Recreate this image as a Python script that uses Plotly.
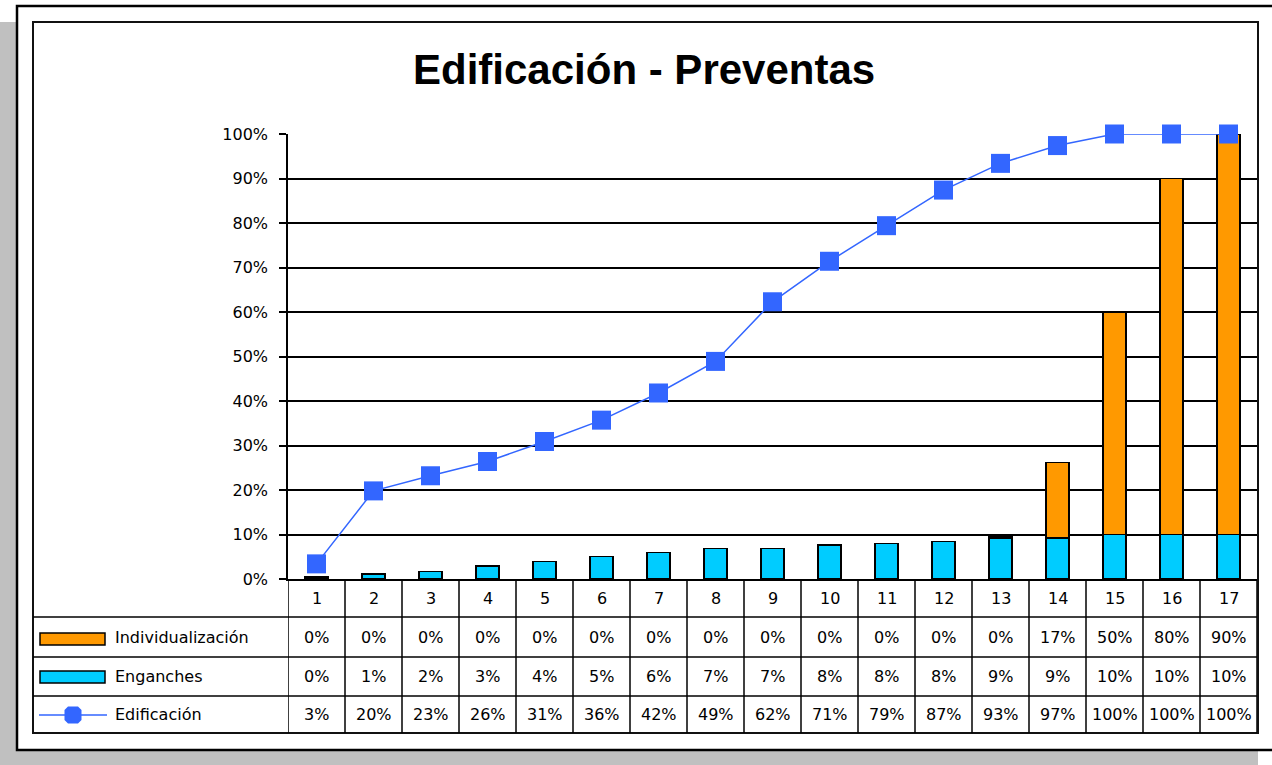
import plotly.graph_objects as go

# Chart data
periodos = list(range(1, 18))
individualizacion = [0, 0, 0, 0, 0, 0, 0, 0, 0, 0, 0, 0, 0.3, 17, 50, 80, 90]
enganches = [0.4, 1.1, 1.7, 2.9, 3.9, 5.1, 5.9, 6.8, 6.8, 7.6, 8.0, 8.4, 9.1, 9.2, 10, 10, 10]
edificacion = [3.4, 19.8, 23.2, 26.4, 30.9, 35.7, 41.8, 48.9, 62.3, 71.4, 79.4,
               87.4, 93.4, 97.4, 100, 100, 100]
ytick_vals = [0, 10, 20, 30, 40, 50, 60, 70, 80, 90, 100]
ytick_text = [f"{v}%" for v in ytick_vals]

W, H = 1272, 765
C_ORANGE = "#FF9900"
C_CYAN = "#00CCFF"
C_BLUE = "#3366FF"
TITLE_FONT = "Liberation Sans, Arial, sans-serif"
FONT = "DejaVu Sans, sans-serif"


def px(x):
    return x / W


def py(y):
    return 1 - y / H


# plot-area geometry (pixels)
PLOT_L, PLOT_R, PLOT_T, PLOT_B = 288, 1257, 134, 579
TABLE_ROWS = [579, 617, 657, 696, 733]
FRAME_L, FRAME_T, FRAME_R, FRAME_B = 33, 22, 1258, 733

fig = go.Figure()

fig.add_trace(go.Bar(
    x=periodos, y=enganches, name="Enganches",
    marker=dict(color=C_CYAN, line=dict(color="black", width=1.5)),
    width=0.4,
))
fig.add_trace(go.Bar(
    x=periodos, y=individualizacion, name="Individualización",
    marker=dict(color=C_ORANGE, line=dict(color="black", width=1.5)),
    width=0.4,
))
fig.add_trace(go.Scatter(
    x=periodos, y=edificacion, name="Edificación", mode="lines+markers",
    line=dict(color=C_BLUE, width=1.5),
    marker=dict(symbol="square", size=19, color=C_BLUE),
    cliponaxis=False,
))

shapes = []
# drop shadow
shapes.append(dict(type="rect", xref="paper", yref="paper", layer="below",
                   x0=px(0), x1=px(17), y0=py(765), y1=py(22),
                   fillcolor="#C0C0C0", line=dict(width=0)))
shapes.append(dict(type="rect", xref="paper", yref="paper", layer="below",
                   x0=px(0), x1=px(1258), y0=py(765), y1=py(751),
                   fillcolor="#C0C0C0", line=dict(width=0)))
# outer border
shapes.append(dict(type="rect", xref="paper", yref="paper", layer="below",
                   x0=px(17), x1=px(1290), y0=py(750), y1=py(6),
                   fillcolor="white", line=dict(color="black", width=2.5)))
# inner frame
shapes.append(dict(type="rect", xref="paper", yref="paper",
                   x0=px(FRAME_L), x1=px(FRAME_R), y0=py(FRAME_B), y1=py(FRAME_T),
                   line=dict(color="#111111", width=2)))
# data table horizontal rules
for yy in TABLE_ROWS[1:4]:
    shapes.append(dict(type="line", xref="paper", yref="paper",
                       x0=px(FRAME_L), x1=px(PLOT_R), y0=py(yy), y1=py(yy),
                       line=dict(color="black", width=1.5)))
# data table vertical rules
for k in range(18):
    shapes.append(dict(type="line", xref="x", yref="paper",
                       x0=0.5 + k, x1=0.5 + k, y0=py(TABLE_ROWS[-1]), y1=py(PLOT_B),
                       line=dict(color="black", width=1.5)))

# legend keys inside the table
shapes.append(dict(type="rect", xref="paper", yref="paper",
                   x0=px(40), x1=px(105), y0=py(645), y1=py(633),
                   fillcolor=C_ORANGE, line=dict(color="black", width=1.5)))
shapes.append(dict(type="rect", xref="paper", yref="paper",
                   x0=px(40), x1=px(105), y0=py(683), y1=py(671),
                   fillcolor=C_CYAN, line=dict(color="black", width=1.5)))
shapes.append(dict(type="line", xref="paper", yref="paper",
                   x0=px(39), x1=px(107), y0=py(715), y1=py(715),
                   line=dict(color=C_BLUE, width=1.5)))
cx, cy, r, c = 73, 715, 8.5, 3.5
octo = [(cx - r + c, cy - r), (cx + r - c, cy - r), (cx + r, cy - r + c), (cx + r, cy + r - c),
        (cx + r - c, cy + r), (cx - r + c, cy + r), (cx - r, cy + r - c), (cx - r, cy - r + c)]
path = "M " + " L ".join(f"{px(a):.5f},{py(b):.5f}" for a, b in octo) + " Z"
shapes.append(dict(type="path", xref="paper", yref="paper", path=path,
                   fillcolor=C_BLUE, line=dict(width=0)))

annotations = []
annotations.append(dict(text="<b>Edificación - Preventas</b>", xref="paper", yref="paper",
                        x=px(644), y=py(69), showarrow=False,
                        font=dict(family=TITLE_FONT, size=42, color="black"),
                        xanchor="center", yanchor="middle"))

cell_font = dict(family=FONT, size=16, color="black")
row_y = [(TABLE_ROWS[i] + TABLE_ROWS[i + 1]) / 2 for i in range(4)]

for p in periodos:
    annotations.append(dict(text=str(p), xref="x", yref="paper", x=p, y=py(row_y[0]),
                            showarrow=False, font=cell_font, xanchor="center", yanchor="middle"))

rows = [("Individualización", individualizacion),
        ("Enganches", enganches),
        ("Edificación", edificacion)]
for i, (name, vals) in enumerate(rows):
    yc = py(row_y[i + 1])
    annotations.append(dict(text=name, xref="paper", yref="paper", x=px(113), y=yc,
                            showarrow=False, font=cell_font, xanchor="left", yanchor="middle"))
    for p, v in zip(periodos, vals):
        annotations.append(dict(text=f"{round(v)}%", xref="x", yref="paper", x=p, y=yc,
                                showarrow=False, font=cell_font,
                                xanchor="center", yanchor="middle"))

fig.update_layout(
    width=W, height=H,
    margin=dict(l=0, r=0, t=0, b=0, pad=0, autoexpand=False),
    paper_bgcolor="white", plot_bgcolor="white",
    barmode="stack", bargap=0.6,
    showlegend=False,
    shapes=shapes, annotations=annotations,
    xaxis=dict(domain=[px(PLOT_L), px(PLOT_R)], range=[0.5, 17.5], automargin=False,
               showticklabels=False, showgrid=False, zeroline=False,
               showline=True, linecolor="black", linewidth=1.5, ticks=""),
    yaxis=dict(domain=[py(PLOT_B), py(PLOT_T)], range=[0, 100], automargin=False,
               tickmode="array", tickvals=ytick_vals, ticktext=ytick_text,
               showgrid=True, gridcolor="black", gridwidth=1.5,
               zeroline=False, showline=True, linecolor="black", linewidth=1.5,
               ticks="outside", ticklen=7, tickcolor="black", tickwidth=1.5,
               ticklabelstandoff=8,
               tickfont=dict(family=FONT, size=16, color="black")),
)

fig.write_html("out.html")
